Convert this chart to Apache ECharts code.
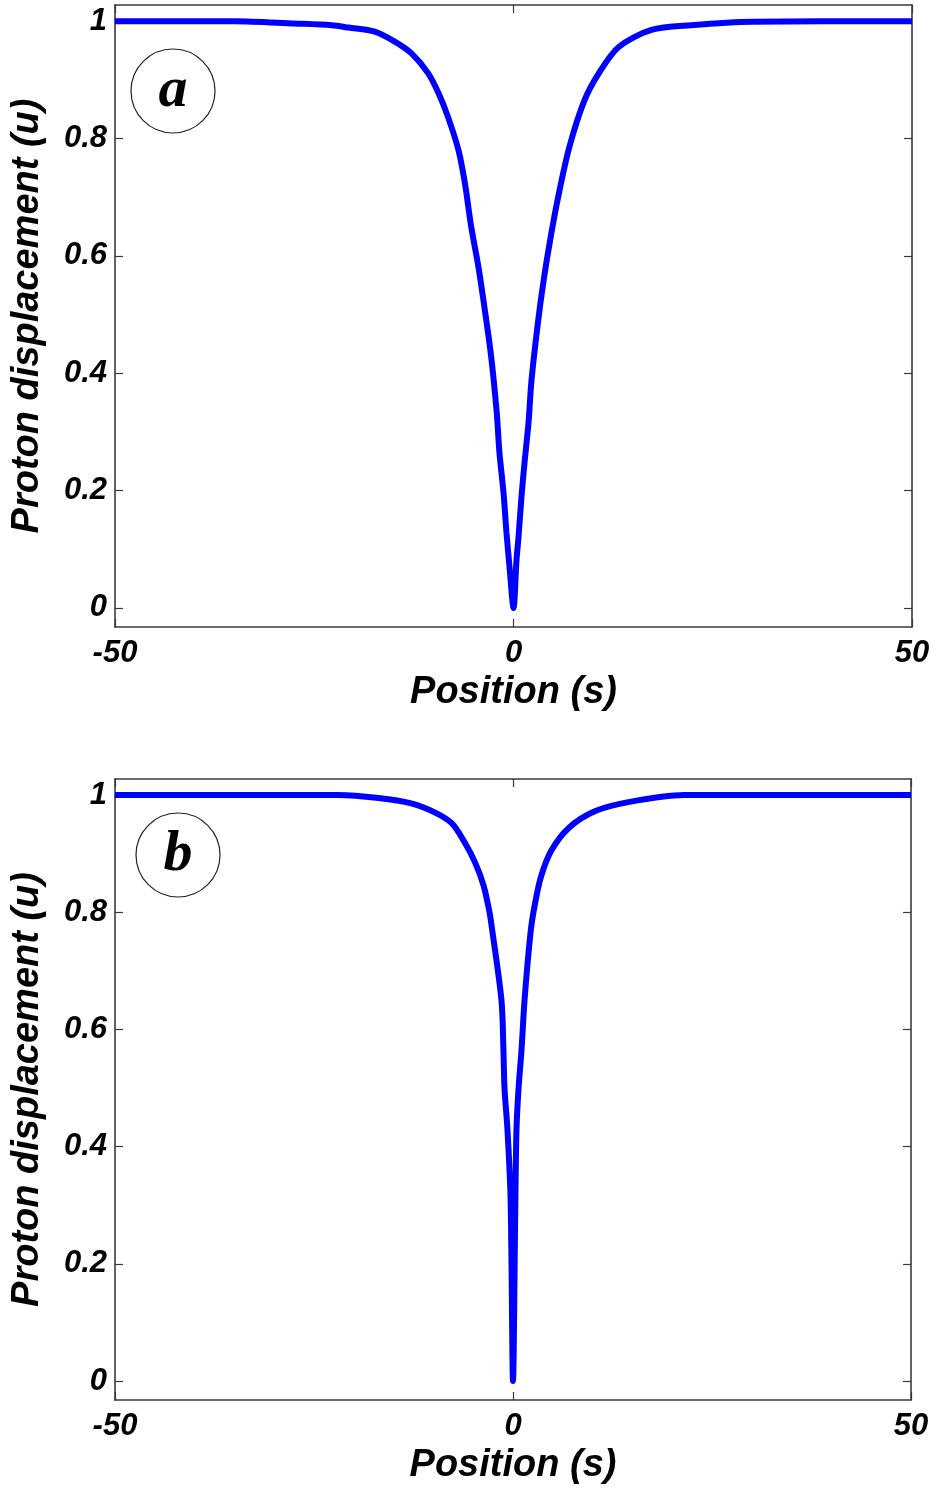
<!DOCTYPE html>
<html><head><meta charset="utf-8">
<script src="https://cdn.jsdelivr.net/npm/echarts@6/dist/echarts.min.js"></script>
<style>html,body{margin:0;padding:0;background:#fff}#c{width:936px;height:1488px}</style>
</head><body><div id="c"></div>
<script>
// ---- data ----
const xTicks = [-50, 0, 50];
const yTicks = [0, 0.2, 0.4, 0.6, 0.8, 1];
const xName = 'Position (s)';
const yName = 'Proton displacement (u)';
const panelLabels = ['a', 'b'];

// panel a
const posA  = [-50, -35, -27.5, -22.8, -20.7, -17.4, -14.9, -12.8, -10.7, -9.4, -8.2, -6.9, -6.1, -5.3, -4.4, -3.6, -2.8, -2.1, -1.76, -1.25, -0.88, -0.5, 0, 0.38, 0.63, 1.0, 1.38, 1.88, 2.26, 3.1, 3.8, 4.6, 5.6, 7.0, 8.9, 10.7, 13.2, 17.3, 22.3, 30, 50];
const dispA = [1, 1, 0.996, 0.993, 0.989, 0.982, 0.965, 0.945, 0.911, 0.877, 0.836, 0.78, 0.724, 0.649, 0.581, 0.508, 0.428, 0.332, 0.264, 0.196, 0.128, 0.07, 0, 0.082, 0.121, 0.189, 0.247, 0.315, 0.388, 0.49, 0.56, 0.627, 0.7, 0.785, 0.865, 0.911, 0.956, 0.985, 0.993, 0.999, 1];

// panel b
const posB  = [-50, -22, -16.9, -12.8, -9.9, -7.7, -6.1, -4.8, -3.7, -2.95, -2.7, -1.45, -1.2, -1.07, -0.7, -0.3, 0, 0.3, 0.44, 0.7, 1.07, 1.45, 2.2, 2.7, 3.5, 4.8, 7.0, 10.2, 14.5, 21.5, 50];
const dispB = [1, 1, 0.995, 0.986, 0.971, 0.952, 0.92, 0.886, 0.846, 0.80, 0.778, 0.65, 0.565, 0.50, 0.43, 0.31, 0, 0.31, 0.43, 0.5, 0.565, 0.65, 0.765, 0.81, 0.86, 0.905, 0.944, 0.972, 0.988, 1, 1];

// ---- chart ----
const FONT = '"Liberation Sans", Arial, sans-serif';
const AX = '#3a3a3a';
const grids = [
  {left: 115, right: 24, top: 5, height: 622},
  {left: 115, right: 25, top: 779, height: 621}
];
const xAxes = [], yAxes = [];
grids.forEach((g, gi) => {
  ['bottom', 'top'].forEach((pos, k) => {
    xAxes.push({
      type: 'value', gridIndex: gi, position: pos, min: -50, max: 50, interval: 50,
      axisLine: {show: true, onZero: false, lineStyle: {color: AX, width: 1.6}},
      axisTick: {show: true, inside: true, length: 8, lineStyle: {color: AX, width: 1.2}},
      splitLine: {show: false},
      axisLabel: {show: k === 0, margin: 11, color: '#000', fontFamily: FONT, fontStyle: 'italic', fontWeight: 'bold', fontSize: 31,
        formatter: v => String(v)},
      name: k === 0 ? xName : '', nameLocation: 'middle', nameGap: 47,
      nameTextStyle: {color: '#000', fontFamily: FONT, fontStyle: 'italic', fontWeight: 'bold', fontSize: 38}
    });
  });
  ['left', 'right'].forEach((pos, k) => {
    yAxes.push({
      type: 'value', gridIndex: gi, position: pos, min: -0.0325, max: 1.0275,
      axisLine: {show: true, onZero: false, lineStyle: {color: AX, width: 1.6}},
      axisTick: {show: true, inside: true, length: 8, customValues: yTicks, lineStyle: {color: AX, width: 1.2}},
      splitLine: {show: false},
      axisLabel: {show: k === 0, customValues: yTicks, margin: 8, color: '#000', fontFamily: FONT, fontStyle: 'italic', fontWeight: 'bold', fontSize: 31,
        formatter: v => String(v)},
      name: k === 0 ? yName : '', nameLocation: 'middle', nameGap: 68,
      nameTextStyle: {color: '#000', fontFamily: FONT, fontStyle: 'italic', fontWeight: 'bold', fontSize: 38}
    });
  });
});

const mk = (xs, ys) => xs.map((x, i) => [x, ys[i]]);
const series = [
  {type: 'line', xAxisIndex: 0, yAxisIndex: 0, data: mk(posA, dispA)},
  {type: 'line', xAxisIndex: 2, yAxisIndex: 2, data: mk(posB, dispB)}
].map(s => Object.assign(s, {showSymbol: false, smooth: 0.3, lineStyle: {color: '#0000ff', width: 6}, z: 3}));

const circles = [{cx: 173, cy: 91, r: 42}, {cx: 178, cy: 855, r: 42}];
const graphic = [];
circles.forEach((c, i) => {
  graphic.push({type: 'circle', shape: {cx: c.cx, cy: c.cy, r: c.r}, style: {fill: '#fff', stroke: '#222', lineWidth: 1.2}, z: 10});
  graphic.push({type: 'text', x: c.cx, y: c.cy, style: {text: panelLabels[i], fill: '#000', font: 'italic bold 58px "Liberation Serif", "Times New Roman", serif', align: 'center', verticalAlign: 'middle'}, z: 11});
});

const chart = echarts.init(document.getElementById('c'), null, {renderer: 'canvas'});
chart.setOption({
  animation: false,
  backgroundColor: '#fff',
  grid: grids,
  xAxis: xAxes,
  yAxis: yAxes,
  series: series,
  graphic: graphic
});
</script>
</body></html>
